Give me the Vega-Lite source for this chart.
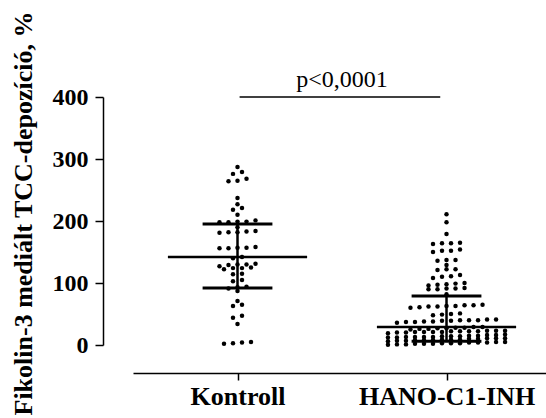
{
  "$schema": "https://vega.github.io/schema/vega-lite/v6.json",
  "width": 413,
  "height": 248,
  "autosize": "none",
  "padding": {"left": 133, "top": 97, "right": 0, "bottom": 73},
  "background": "white",
  "config": {"view": {"stroke": null}, "font": "Liberation Serif"},
  "datasets": {
    "points": [
      {"group": "Kontroll", "value": 287}, {"group": "Kontroll", "value": 276}, {"group": "Kontroll", "value": 279},
      {"group": "Kontroll", "value": 268}, {"group": "Kontroll", "value": 265}, {"group": "Kontroll", "value": 264},
      {"group": "Kontroll", "value": 237}, {"group": "Kontroll", "value": 227}, {"group": "Kontroll", "value": 218},
      {"group": "Kontroll", "value": 221}, {"group": "Kontroll", "value": 210}, {"group": "Kontroll", "value": 190},
      {"group": "Kontroll", "value": 198}, {"group": "Kontroll", "value": 198}, {"group": "Kontroll", "value": 199},
      {"group": "Kontroll", "value": 199}, {"group": "Kontroll", "value": 201}, {"group": "Kontroll", "value": 181},
      {"group": "Kontroll", "value": 182}, {"group": "Kontroll", "value": 182}, {"group": "Kontroll", "value": 183},
      {"group": "Kontroll", "value": 184}, {"group": "Kontroll", "value": 156}, {"group": "Kontroll", "value": 157},
      {"group": "Kontroll", "value": 157}, {"group": "Kontroll", "value": 156}, {"group": "Kontroll", "value": 158},
      {"group": "Kontroll", "value": 140}, {"group": "Kontroll", "value": 142}, {"group": "Kontroll", "value": 131},
      {"group": "Kontroll", "value": 130}, {"group": "Kontroll", "value": 130}, {"group": "Kontroll", "value": 129},
      {"group": "Kontroll", "value": 127}, {"group": "Kontroll", "value": 125}, {"group": "Kontroll", "value": 124},
      {"group": "Kontroll", "value": 124}, {"group": "Kontroll", "value": 122}, {"group": "Kontroll", "value": 115},
      {"group": "Kontroll", "value": 114}, {"group": "Kontroll", "value": 105}, {"group": "Kontroll", "value": 103},
      {"group": "Kontroll", "value": 91}, {"group": "Kontroll", "value": 93}, {"group": "Kontroll", "value": 94},
      {"group": "Kontroll", "value": 87}, {"group": "Kontroll", "value": 65}, {"group": "Kontroll", "value": 63},
      {"group": "Kontroll", "value": 71}, {"group": "Kontroll", "value": 44}, {"group": "Kontroll", "value": 47},
      {"group": "Kontroll", "value": 34}, {"group": "Kontroll", "value": 2}, {"group": "Kontroll", "value": 3},
      {"group": "Kontroll", "value": 4}, {"group": "Kontroll", "value": 5},
      {"group": "HANO-C1-INH", "value": 211}, {"group": "HANO-C1-INH", "value": 198}, {"group": "HANO-C1-INH", "value": 179},
      {"group": "HANO-C1-INH", "value": 163}, {"group": "HANO-C1-INH", "value": 164}, {"group": "HANO-C1-INH", "value": 164},
      {"group": "HANO-C1-INH", "value": 165}, {"group": "HANO-C1-INH", "value": 150}, {"group": "HANO-C1-INH", "value": 152},
      {"group": "HANO-C1-INH", "value": 152}, {"group": "HANO-C1-INH", "value": 154}, {"group": "HANO-C1-INH", "value": 136},
      {"group": "HANO-C1-INH", "value": 137}, {"group": "HANO-C1-INH", "value": 137}, {"group": "HANO-C1-INH", "value": 129},
      {"group": "HANO-C1-INH", "value": 121}, {"group": "HANO-C1-INH", "value": 122}, {"group": "HANO-C1-INH", "value": 122},
      {"group": "HANO-C1-INH", "value": 108}, {"group": "HANO-C1-INH", "value": 110}, {"group": "HANO-C1-INH", "value": 111},
      {"group": "HANO-C1-INH", "value": 113}, {"group": "HANO-C1-INH", "value": 96}, {"group": "HANO-C1-INH", "value": 97},
      {"group": "HANO-C1-INH", "value": 98}, {"group": "HANO-C1-INH", "value": 99}, {"group": "HANO-C1-INH", "value": 100},
      {"group": "HANO-C1-INH", "value": 90}, {"group": "HANO-C1-INH", "value": 90}, {"group": "HANO-C1-INH", "value": 91},
      {"group": "HANO-C1-INH", "value": 91}, {"group": "HANO-C1-INH", "value": 92}, {"group": "HANO-C1-INH", "value": 82},
      {"group": "HANO-C1-INH", "value": 60}, {"group": "HANO-C1-INH", "value": 61}, {"group": "HANO-C1-INH", "value": 62},
      {"group": "HANO-C1-INH", "value": 62}, {"group": "HANO-C1-INH", "value": 63}, {"group": "HANO-C1-INH", "value": 63},
      {"group": "HANO-C1-INH", "value": 64}, {"group": "HANO-C1-INH", "value": 64}, {"group": "HANO-C1-INH", "value": 65},
      {"group": "HANO-C1-INH", "value": 48}, {"group": "HANO-C1-INH", "value": 49}, {"group": "HANO-C1-INH", "value": 50},
      {"group": "HANO-C1-INH", "value": 51},
      {"group": "HANO-C1-INH", "value": 36}, {"group": "HANO-C1-INH", "value": 37}, {"group": "HANO-C1-INH", "value": 37},
      {"group": "HANO-C1-INH", "value": 38}, {"group": "HANO-C1-INH", "value": 38}, {"group": "HANO-C1-INH", "value": 39},
      {"group": "HANO-C1-INH", "value": 39}, {"group": "HANO-C1-INH", "value": 40}, {"group": "HANO-C1-INH", "value": 40},
      {"group": "HANO-C1-INH", "value": 40}, {"group": "HANO-C1-INH", "value": 41}, {"group": "HANO-C1-INH", "value": 41},
      {"group": "HANO-C1-INH", "value": 25}, {"group": "HANO-C1-INH", "value": 26}, {"group": "HANO-C1-INH", "value": 26},
      {"group": "HANO-C1-INH", "value": 27}, {"group": "HANO-C1-INH", "value": 27}, {"group": "HANO-C1-INH", "value": 28},
      {"group": "HANO-C1-INH", "value": 28}, {"group": "HANO-C1-INH", "value": 29}, {"group": "HANO-C1-INH", "value": 29},
      {"group": "HANO-C1-INH", "value": 19}, {"group": "HANO-C1-INH", "value": 20}, {"group": "HANO-C1-INH", "value": 20},
      {"group": "HANO-C1-INH", "value": 21}, {"group": "HANO-C1-INH", "value": 21}, {"group": "HANO-C1-INH", "value": 21},
      {"group": "HANO-C1-INH", "value": 21}, {"group": "HANO-C1-INH", "value": 22}, {"group": "HANO-C1-INH", "value": 22},
      {"group": "HANO-C1-INH", "value": 22}, {"group": "HANO-C1-INH", "value": 22}, {"group": "HANO-C1-INH", "value": 23},
      {"group": "HANO-C1-INH", "value": 23}, {"group": "HANO-C1-INH", "value": 23},
      {"group": "HANO-C1-INH", "value": 12}, {"group": "HANO-C1-INH", "value": 12}, {"group": "HANO-C1-INH", "value": 13},
      {"group": "HANO-C1-INH", "value": 13}, {"group": "HANO-C1-INH", "value": 13}, {"group": "HANO-C1-INH", "value": 13},
      {"group": "HANO-C1-INH", "value": 14}, {"group": "HANO-C1-INH", "value": 14}, {"group": "HANO-C1-INH", "value": 14},
      {"group": "HANO-C1-INH", "value": 15}, {"group": "HANO-C1-INH", "value": 15}, {"group": "HANO-C1-INH", "value": 16},
      {"group": "HANO-C1-INH", "value": 16}, {"group": "HANO-C1-INH", "value": 17},
      {"group": "HANO-C1-INH", "value": 6}, {"group": "HANO-C1-INH", "value": 7}, {"group": "HANO-C1-INH", "value": 7},
      {"group": "HANO-C1-INH", "value": 8}, {"group": "HANO-C1-INH", "value": 8}, {"group": "HANO-C1-INH", "value": 8},
      {"group": "HANO-C1-INH", "value": 9}, {"group": "HANO-C1-INH", "value": 9}, {"group": "HANO-C1-INH", "value": 9},
      {"group": "HANO-C1-INH", "value": 10}, {"group": "HANO-C1-INH", "value": 10}, {"group": "HANO-C1-INH", "value": 11},
      {"group": "HANO-C1-INH", "value": 11}, {"group": "HANO-C1-INH", "value": 11},
      {"group": "HANO-C1-INH", "value": 0.5}, {"group": "HANO-C1-INH", "value": 1}, {"group": "HANO-C1-INH", "value": 1},
      {"group": "HANO-C1-INH", "value": 2}, {"group": "HANO-C1-INH", "value": 2}, {"group": "HANO-C1-INH", "value": 2},
      {"group": "HANO-C1-INH", "value": 3}, {"group": "HANO-C1-INH", "value": 3}, {"group": "HANO-C1-INH", "value": 3},
      {"group": "HANO-C1-INH", "value": 4}, {"group": "HANO-C1-INH", "value": 4}, {"group": "HANO-C1-INH", "value": 4},
      {"group": "HANO-C1-INH", "value": 5}, {"group": "HANO-C1-INH", "value": 5}
    ],
    "summary": [
      {"group": "Kontroll", "median": 142, "q1": 92, "q3": 195},
      {"group": "HANO-C1-INH", "median": 29, "q1": 6, "q3": 79}
    ]
  },
  "layer": [
    {
      "data": {"name": "points"},
      "transform": [
        {"bin": {"step": 6, "extent": [0, 420]}, "field": "value", "as": "vbin"},
        {"window": [{"op": "row_number", "as": "rank"}, {"op": "count", "as": "n"}], "groupby": ["group", "vbin"], "sort": [{"field": "value"}], "frame": [null, null]},
        {"calculate": "(datum.group === 'Kontroll' ? 1 : 2) + (datum.rank - (datum.n + 1) / 2) * 0.0431", "as": "xpos"}
      ],
      "mark": {"type": "circle", "size": 20, "opacity": 1, "color": "black"},
      "encoding": {
        "x": {
          "field": "xpos", "type": "quantitative",
          "scale": {"domain": [0.5, 2.476], "nice": false, "zero": false},
          "axis": {
            "title": null, "values": [1, 2], "offset": 28, "grid": false,
            "labelExpr": "datum.value == 1 ? 'Kontroll' : 'HANO-C1-INH'",
            "labelFont": "Liberation Serif", "labelFontSize": 26, "labelFontWeight": "bold", "labelColor": "black",
            "labelPadding": 3, "labelOverlap": false, "labelFlush": false, "labelBound": false,
            "tickSize": 7, "tickWidth": 1.5, "tickColor": "black", "domainColor": "black", "domainWidth": 1.5
          }
        },
        "y": {
          "field": "value", "type": "quantitative",
          "scale": {"domain": [0, 400], "nice": false},
          "axis": {
            "title": "Fikolin-3 mediált TCC-depozíció, %",
            "values": [0, 100, 200, 300, 400], "offset": 30, "grid": false,
            "titleFont": "Liberation Serif", "titleFontSize": 26, "titleFontWeight": "bold", "titleColor": "black",
            "titleAngle": 270, "titleAlign": "center", "titleBaseline": "alphabetic", "titleX": -72, "titleY": 116,
            "labelFont": "Liberation Serif", "labelFontSize": 24, "labelFontWeight": "bold", "labelColor": "black",
            "labelPadding": 7, "tickSize": 8, "tickWidth": 1.5, "tickColor": "black", "domainColor": "black", "domainWidth": 1.5
          }
        }
      }
    },
    {
      "data": {"name": "summary"},
      "transform": [
        {"calculate": "datum.group === 'Kontroll' ? 1 : 2", "as": "gi"},
        {"calculate": "datum.gi - 0.333", "as": "lo"},
        {"calculate": "datum.gi + 0.333", "as": "hi"}
      ],
      "mark": {"type": "rule", "color": "black", "strokeWidth": 2.5},
      "encoding": {
        "x": {"field": "lo", "type": "quantitative", "scale": {"domain": [0.5, 2.476], "nice": false, "zero": false}},
        "x2": {"field": "hi"},
        "y": {"field": "median", "type": "quantitative"}
      }
    },
    {
      "data": {"name": "summary"},
      "transform": [
        {"calculate": "datum.group === 'Kontroll' ? 1 : 2", "as": "gi"},
        {"calculate": "datum.gi - 0.167", "as": "ilo"},
        {"calculate": "datum.gi + 0.167", "as": "ihi"}
      ],
      "mark": {"type": "rule", "color": "black", "strokeWidth": 3},
      "encoding": {
        "x": {"field": "ilo", "type": "quantitative", "scale": {"domain": [0.5, 2.476], "nice": false, "zero": false}},
        "x2": {"field": "ihi"},
        "y": {"field": "q1", "type": "quantitative"}
      }
    },
    {
      "data": {"name": "summary"},
      "transform": [
        {"calculate": "datum.group === 'Kontroll' ? 1 : 2", "as": "gi"},
        {"calculate": "datum.gi - 0.167", "as": "ilo"},
        {"calculate": "datum.gi + 0.167", "as": "ihi"}
      ],
      "mark": {"type": "rule", "color": "black", "strokeWidth": 3},
      "encoding": {
        "x": {"field": "ilo", "type": "quantitative", "scale": {"domain": [0.5, 2.476], "nice": false, "zero": false}},
        "x2": {"field": "ihi"},
        "y": {"field": "q3", "type": "quantitative"}
      }
    },
    {
      "data": {"name": "summary"},
      "transform": [
        {"calculate": "datum.group === 'Kontroll' ? 1 : 2", "as": "gi"}
      ],
      "mark": {"type": "rule", "color": "black", "strokeWidth": 2.5},
      "encoding": {
        "x": {"field": "gi", "type": "quantitative", "scale": {"domain": [0.5, 2.476], "nice": false, "zero": false}},
        "y": {"field": "q1", "type": "quantitative"},
        "y2": {"field": "q3"}
      }
    },
    {
      "data": {"values": [{"label": "p<0,0001"}]},
      "mark": {"type": "rule", "color": "black", "strokeWidth": 1.3},
      "encoding": {
        "x": {"datum": 1.01, "type": "quantitative"},
        "x2": {"datum": 1.97},
        "y": {"datum": 400, "type": "quantitative"}
      }
    },
    {
      "data": {"values": [{"label": "p<0,0001"}]},
      "mark": {"type": "text", "color": "black", "font": "Liberation Serif", "fontSize": 24, "baseline": "alphabetic", "align": "center", "dy": -10},
      "encoding": {
        "x": {"datum": 1.5, "type": "quantitative"},
        "y": {"datum": 400, "type": "quantitative"},
        "text": {"field": "label"}
      }
    }
  ]
}
